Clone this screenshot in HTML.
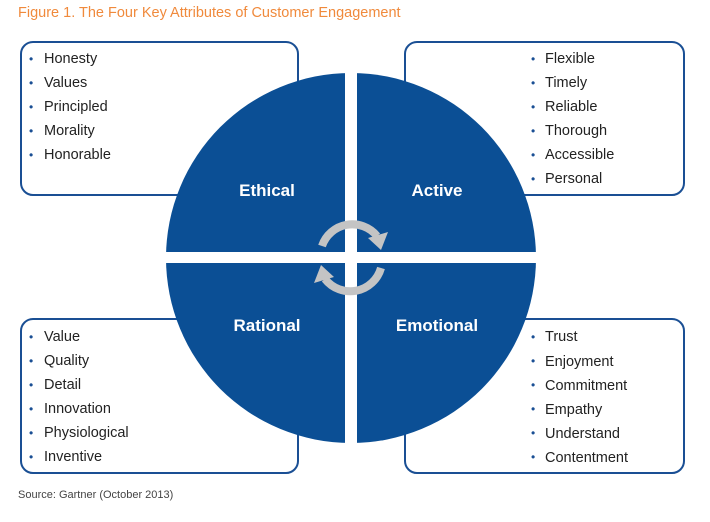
<!DOCTYPE html>
<html><head><style>
body{margin:0;background:#fff;}
svg{display:block;font-family:"Liberation Sans",Arial,sans-serif;}
</style></head><body>
<svg width="710" height="522" viewBox="0 0 710 522" xmlns="http://www.w3.org/2000/svg">
<rect width="710" height="522" fill="#fff"/>
<text x="18" y="17" font-size="14.5" fill="#f08a3c">Figure 1. The Four Key Attributes of Customer Engagement</text>
<g fill="#fff" stroke="#1a4f94" stroke-width="2">
<rect x="21" y="42" width="277" height="153" rx="12"/>
<rect x="405" y="42" width="279" height="153" rx="12"/>
<rect x="21" y="319" width="277" height="154" rx="12"/>
<rect x="405" y="319" width="279" height="154" rx="12"/>
</g>
<circle cx="351" cy="258" r="185" fill="#0b4f95"/>
<rect x="345" y="70" width="12" height="380" fill="#fff"/>
<rect x="160" y="252" width="384" height="11" fill="#fff"/>
<g fill="none" stroke="#c4c4c4" stroke-width="8">
<path d="M322,246 A32,32 0 0 1 377,236"/>
<path d="M381,268 A32,32 0 0 1 325,279"/>
</g>
<g fill="#c4c4c4">
<polygon points="368,238 388,232 381,250"/>
<polygon points="334,277 314,283 321,265"/>
</g>
<g fill="#fff" font-weight="bold" font-size="17" text-anchor="middle">
<text x="267" y="196">Ethical</text>
<text x="437" y="196">Active</text>
<text x="267" y="331">Rational</text>
<text x="437" y="331">Emotional</text>
</g>
<g font-size="14.5" fill="#222">
<g fill="#1a4f94" font-size="12"><text x="29" y="63">•</text><text x="29" y="87">•</text><text x="29" y="111">•</text><text x="29" y="135">•</text><text x="29" y="159">•</text></g>
<text x="44" y="63">Honesty</text><text x="44" y="87">Values</text><text x="44" y="111">Principled</text><text x="44" y="135">Morality</text><text x="44" y="159">Honorable</text>
<g fill="#1a4f94" font-size="12"><text x="531" y="63">•</text><text x="531" y="87">•</text><text x="531" y="111">•</text><text x="531" y="135">•</text><text x="531" y="159">•</text><text x="531" y="183">•</text></g>
<text x="545" y="63">Flexible</text><text x="545" y="87">Timely</text><text x="545" y="111">Reliable</text><text x="545" y="135">Thorough</text><text x="545" y="159">Accessible</text><text x="545" y="183">Personal</text>
<g fill="#1a4f94" font-size="12"><text x="29" y="341">•</text><text x="29" y="365">•</text><text x="29" y="389">•</text><text x="29" y="413">•</text><text x="29" y="437">•</text><text x="29" y="461">•</text></g>
<text x="44" y="341">Value</text><text x="44" y="365">Quality</text><text x="44" y="389">Detail</text><text x="44" y="413">Innovation</text><text x="44" y="437">Physiological</text><text x="44" y="461">Inventive</text>
<g fill="#1a4f94" font-size="12"><text x="531" y="341">•</text><text x="531" y="365">•</text><text x="531" y="389">•</text><text x="531" y="413">•</text><text x="531" y="437">•</text><text x="531" y="461">•</text></g>
<text x="545" y="341">Trust</text><text x="545" y="366">Enjoyment</text><text x="545" y="390">Commitment</text><text x="545" y="414">Empathy</text><text x="545" y="438">Understand</text><text x="545" y="462">Contentment</text>
</g>
<text x="18" y="498" font-size="11" fill="#444">Source: Gartner (October 2013)</text>
</svg>
</body></html>
